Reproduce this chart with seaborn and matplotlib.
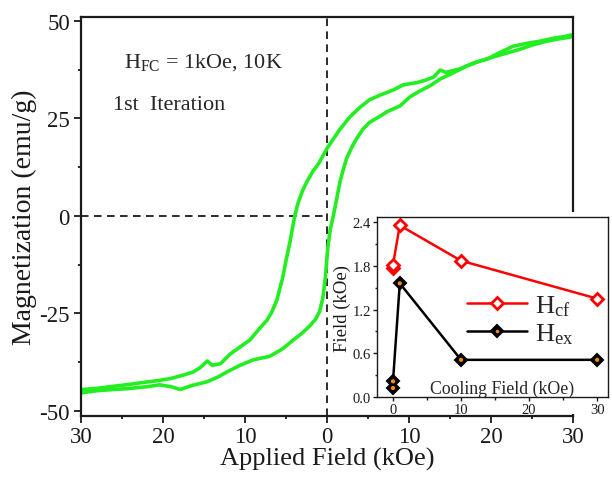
import matplotlib
matplotlib.use('Agg')
import matplotlib.pyplot as plt
import seaborn as sns
from matplotlib.lines import Line2D
from matplotlib.patches import Rectangle
from matplotlib.ticker import MultipleLocator, FuncFormatter, FormatStrFormatter

# ---------------- data ----------------
# descending branch: +30 kOe -> -30 kOe
desc_field = [30, 29, 27.5, 26, 24.5, 22.7, 21, 19.5, 18, 16.2, 14.5, 13.8, 13.0, 12.0,
              11.0, 9.3, 8.0, 6.5, 5.2, 4.0, 2.8, 1.5, 0, -1.0, -1.7, -2.4, -3.0, -3.5,
              -3.9, -4.2, -4.5, -5.0, -5.4, -5.8, -6.1, -6.7, -7.3, -8.2, -9.4, -10.6,
              -11.8, -13.0, -14.0, -14.6, -15.4, -16.3, -17.5, -19.1, -20.5, -22.4,
              -24.5, -26.5, -28.0, -29.8, -30]
desc_mag = [46.5, 46.0, 45.5, 44.8, 44.3, 43.5, 41.8, 40.2, 39.3, 37.7, 36.8, 37.4, 35.6, 34.8,
            34.2, 33.6, 32.2, 31.0, 29.8, 27.8, 25.4, 22.0, 17.3, 13.5, 11.5, 9.0, 6.4, 3.5,
            0.3, -3.0, -6.5, -11.5, -15.8, -19.0, -21.5, -24.5, -26.7, -28.8, -31.8, -33.6,
            -35.4, -37.9, -38.3, -37.2, -38.8, -40.0, -40.8, -41.7, -42.2, -42.7,
            -43.3, -43.8, -44.2, -44.5, -44.8]
# ascending branch: -30 kOe -> +30 kOe
asc_field = [-30, -29.8, -28, -26, -24.4, -22, -20.4, -19, -17.9, -16.5, -14.6, -13.3, -12.2,
             -10.6, -9.0, -7.0, -5.5, -4.1, -3.0, -2.1, -1.4, -0.9, -0.5, -0.2, 0.1, 0.4,
             0.8, 1.2, 1.6, 2.0, 2.4, 3.0, 3.6, 4.4, 5.2, 6.5, 7.3, 8.9, 10.1, 11.3, 12.6,
             13.8, 15.4, 17.0, 18.5, 20.2, 22.0, 23.5, 25.0, 26.8, 28.3, 29.6, 30]
asc_mag = [-45.5, -45.3, -44.8, -44.5, -44.3, -43.8, -43.3, -43.8, -44.5, -43.5, -42.5, -41.3,
           -40.0, -38.3, -36.9, -36.0, -34.2, -31.8, -30.0, -28.2, -26.5, -24.5, -21.0, -15.8,
           -8.1, -3.5, 0.3, 4.6, 8.9, 12.0, 14.8, 17.5, 19.8, 22.3, 24.0, 25.6, 26.7, 28.2,
           30.5, 32.0, 33.4, 35.1, 36.7, 38.4, 39.6, 40.7, 41.8, 42.7, 43.8, 44.8, 45.4, 45.8,
           46.2]

# inset
cooling_field = [0, 0, 1, 10, 30]
h_cf = [1.77, 1.815, 2.355, 1.87, 1.35]
h_ex = [0.123, 0.215, 1.56, 0.51, 0.51]

main_xticks = [-30, -20, -10, 0, 10, 20, 30]
main_yticks = [-50, -25, 0, 25, 50]
inset_xticks = [0, 10, 20, 30]
inset_yticks = [0.0, 0.6, 1.2, 1.8, 2.4]

# ---------------- style ----------------
sns.set_theme(style='ticks')
plt.rcParams['font.family'] = ['Liberation Serif', 'DejaVu Serif']
plt.rcParams['mathtext.fontset'] = 'custom'
plt.rcParams['mathtext.rm'] = 'Liberation Serif'
plt.rcParams['mathtext.it'] = 'Liberation Serif:italic'
plt.rcParams['mathtext.bf'] = 'Liberation Serif:bold'
plt.rcParams['axes.unicode_minus'] = False

GREEN = '#22ee22'
W, H = 612, 481
AX_BOTTOM = 417

fig = plt.figure(figsize=(W / 100, H / 100), dpi=100)
fig.patch.set_facecolor('white')
ax = fig.add_axes([81 / W, 1 - AX_BOTTOM / H, 492 / W, (AX_BOTTOM - 18) / H])

sns.lineplot(x=desc_field, y=desc_mag, sort=False, estimator=None, color=GREEN, lw=2.6, ax=ax)
sns.lineplot(x=asc_field, y=asc_mag, sort=False, estimator=None, color=GREEN, lw=2.6, ax=ax)

ax.axvline(0, color='k', lw=1.3, ls=(0, (4.2, 3.0)), zorder=1)
ax.hlines(0, -30, 0, color='k', lw=1.3, ls=(0, (4.2, 3.0)), zorder=1)

ax.set_xlim(-30, 30)
ax.set_ylim(-51.3, 51)
ax.set_xticks(main_xticks)
ax.set_yticks(main_yticks)
ax.xaxis.set_minor_locator(MultipleLocator(5))
ax.yaxis.set_minor_locator(MultipleLocator(12.5))
ax.xaxis.set_major_formatter(FuncFormatter(lambda v, p: f'{abs(v):g}'))
ax.yaxis.set_major_formatter(FuncFormatter(lambda v, p: f'{v:g}'))
ax.tick_params(which='major', direction='out', length=5, width=1.3, labelsize=16.5, color='k',
               labelcolor='k')
ax.tick_params(which='minor', direction='out', length=2.5, width=1.3, color='k')
ax.tick_params(axis='x', which='major', pad=2)
ax.tick_params(axis='y', which='major', pad=3)
for s in ax.spines.values():
    s.set_linewidth(1.6)
    s.set_color('k')
ax.set_xlabel('Applied Field (kOe)', fontsize=19, labelpad=0, color='k')
ax.set_ylabel('Magnetization (emu/g)', fontsize=20, labelpad=2, color='k')

ax.text(-24.8, 38.4, r'H$_{\mathrm{FC}}$ = 1kOe, 10K', fontsize=16, va='baseline', ha='left')
ax.text(-26.1, 27.5, '1st  Iteration', fontsize=16, va='baseline', ha='left')

# white area behind the inset (hides the lower part of the right spine)
fig.patches.append(Rectangle((370 / W, 1 - (AX_BOTTOM - 2) / H), 1 - 370 / W,
                             (AX_BOTTOM - 2 - 213) / H, transform=fig.transFigure,
                             facecolor='white', edgecolor='none', zorder=1))

# ---------------- inset ----------------
axi = fig.add_axes([377 / W, 1 - 398 / H, 231 / W, 180 / H])
axi.set_zorder(2)
axi.set_facecolor('white')

sns.lineplot(x=cooling_field, y=h_cf, sort=False, estimator=None, color='red', lw=1.8,
             marker='D', markersize=6.5, markerfacecolor='white', markeredgecolor='red',
             markeredgewidth=2.0, ax=axi)
sns.lineplot(x=cooling_field, y=h_ex, sort=False, estimator=None, color='black', lw=1.8,
             marker='D', markersize=6.5, markerfacecolor='black', markeredgecolor='black',
             markeredgewidth=1.5, ax=axi)
sns.scatterplot(x=cooling_field, y=h_ex, color='#ff8c00', marker='o', s=9, edgecolor='none',
                ax=axi, zorder=5)

axi.set_xlim(-2.35, 31.6)
axi.set_ylim(0, 2.47)
axi.set_xticks(inset_xticks)
axi.set_yticks(inset_yticks)
axi.xaxis.set_minor_locator(MultipleLocator(5))
axi.yaxis.set_minor_locator(MultipleLocator(0.3))
axi.yaxis.set_major_formatter(FormatStrFormatter('%.1f'))
axi.tick_params(which='major', direction='out', length=3, width=1, labelsize=10.5, pad=1.5,
                color='k', labelcolor='k')
axi.tick_params(which='minor', direction='out', length=1.8, width=1, color='k')
for s in axi.spines.values():
    s.set_linewidth(1.0)
    s.set_color('k')
axi.set_ylabel('Field (kOe)', fontsize=13.5, labelpad=1, color='k')
axi.set_xlabel('')
axi.text(16, 0.055, 'Cooling Field (kOe)', fontsize=12.8, ha='center', va='baseline')

h1 = Line2D([], [], color='red', lw=1.8, marker='D', markersize=6.5, markerfacecolor='white',
            markeredgecolor='red', markeredgewidth=2.0)
h2a = Line2D([], [], color='black', lw=1.8, marker='D', markersize=6.5, markerfacecolor='black',
             markeredgecolor='black', markeredgewidth=1.5)
h2b = Line2D([], [], ls='none', marker='o', markersize=2.5, markerfacecolor='#ff8c00',
             markeredgecolor='none')
axi.legend([h1, (h2a, h2b)], [r'H$_{\mathrm{cf}}$', r'H$_{\mathrm{ex}}$'], loc='center left',
           bbox_to_anchor=(0.39, 0.43), frameon=False, fontsize=19, handlelength=2.27,
           handletextpad=0.3, borderpad=0, borderaxespad=0, labelspacing=0.1)

fig.savefig('out.png', dpi=100, facecolor='white')
